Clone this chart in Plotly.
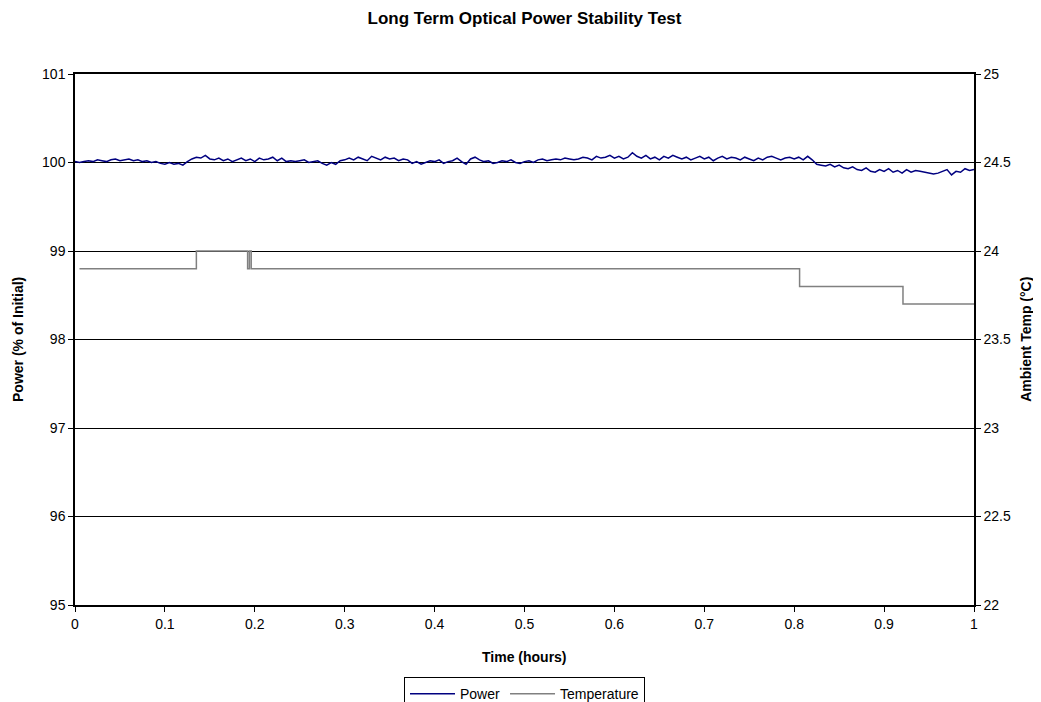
import plotly.graph_objects as go

# Power (% of initial) sampled every 0.005 h from 0 to 1.0
power_values = [
    100.01,100.00,100.01,100.02,100.01,100.03,100.02,100.01,100.03,100.04,100.02,100.03,100.04,100.02,100.03,100.01,100.02,100.00,100.01,99.99,
    99.98,100.00,99.98,99.99,99.97,100.01,100.04,100.06,100.05,100.08,100.04,100.03,100.05,100.02,100.04,100.01,100.03,100.05,100.02,100.04,
    100.01,100.05,100.03,100.04,100.06,100.02,100.05,100.01,100.02,100.01,100.02,100.03,100.00,100.01,100.02,99.99,99.97,100.00,99.98,100.02,
    100.03,100.05,100.03,100.06,100.04,100.02,100.07,100.05,100.03,100.06,100.04,100.05,100.02,100.04,100.03,99.99,100.01,99.98,100.00,100.02,
    100.01,100.03,99.99,100.01,100.02,100.05,100.01,99.98,100.04,100.06,100.03,100.01,100.02,99.99,100.00,100.02,100.01,100.03,100.00,99.99,
    100.01,100.02,100.00,100.03,100.04,100.02,100.03,100.04,100.03,100.05,100.04,100.03,100.04,100.06,100.05,100.03,100.07,100.05,100.06,100.08,
    100.05,100.07,100.04,100.06,100.11,100.07,100.05,100.08,100.04,100.06,100.03,100.07,100.05,100.08,100.06,100.04,100.06,100.03,100.05,100.07,
    100.04,100.06,100.02,100.05,100.07,100.04,100.06,100.05,100.03,100.06,100.04,100.02,100.05,100.03,100.06,100.07,100.05,100.03,100.05,100.06,
    100.04,100.06,100.03,100.07,100.03,99.98,99.97,99.96,99.98,99.95,99.97,99.94,99.93,99.95,99.92,99.91,99.94,99.90,99.89,99.92,
    99.90,99.93,99.89,99.91,99.88,99.92,99.89,99.91,99.90,99.89,99.88,99.87,99.88,99.90,99.92,99.86,99.90,99.89,99.93,99.91,
    99.92,
]
power_time = [i * 0.005 for i in range(len(power_values))]

# Ambient temperature (°C), step changes
temp_time = [0.005, 0.135, 0.192, 0.194, 0.196, 0.806, 0.921, 1.0]
temp_values = [23.9, 24.0, 23.9, 24.0, 23.9, 23.8, 23.7, 23.7]

x_ticks = [0, 0.1, 0.2, 0.3, 0.4, 0.5, 0.6, 0.7, 0.8, 0.9, 1]
x_tick_labels = ["0", "0.1", "0.2", "0.3", "0.4", "0.5", "0.6", "0.7", "0.8", "0.9", "1"]

FONT = "Liberation Sans, Arial, sans-serif"

fig = go.Figure()
fig.add_trace(go.Scatter(
    x=power_time, y=power_values, mode="lines", name="Power",
    line=dict(color="#000080", width=1.5), yaxis="y",
))
fig.add_trace(go.Scatter(
    x=temp_time, y=temp_values, mode="lines", name="Temperature",
    line=dict(color="#808080", width=1.5, shape="hv"), yaxis="y2",
))

axis_common = dict(zeroline=False, showline=True, linecolor="black", linewidth=1.5,
                   ticks="outside", ticklen=5, tickcolor="black", automargin=False,
                   tickfont=dict(size=14))

W, H = 1033, 694
fig.update_layout(
    width=W, height=H,
    margin=dict(l=67, r=67, t=66, b=97, autoexpand=False),
    paper_bgcolor="white", plot_bgcolor="white",
    font=dict(family=FONT, size=14, color="black"),
    title=dict(text="<b>Long Term Optical Power Stability Test</b>",
               x=0.5, xanchor="center", y=1 - 10 / H, yanchor="middle",
               font=dict(size=17, family=FONT)),
    xaxis=dict(range=[0, 1], tickvals=x_ticks, ticktext=x_tick_labels,
               showgrid=False, mirror=True, **axis_common),
    yaxis=dict(range=[95, 101], dtick=1, showgrid=True, gridcolor="black", gridwidth=1,
               **axis_common),
    yaxis2=dict(range=[22, 25], dtick=0.5, overlaying="y", side="right",
                showgrid=False, **axis_common),
    legend=dict(orientation="h", x=0.5, xanchor="center", y=-0.136, yanchor="top",
                bordercolor="black", borderwidth=1, bgcolor="white",
                font=dict(size=14), tracegroupgap=0, itemwidth=45),
    showlegend=True,
    annotations=[
        dict(text="<b>Time (hours)</b>", xref="paper", yref="paper", x=0.5, y=-0.097,
             xanchor="center", yanchor="middle", showarrow=False, font=dict(size=14)),
        dict(text="<b>Power (% of Initial)</b>", xref="paper", yref="paper", x=-0.064, y=0.5,
             xanchor="center", yanchor="middle", textangle=-90, showarrow=False, font=dict(size=14)),
        dict(text="<b>Ambient Temp (°C)</b>", xref="paper", yref="paper", x=1.057, y=0.5,
             xanchor="center", yanchor="middle", textangle=-90, showarrow=False, font=dict(size=14)),
    ],
)

fig.write_html("out.html")
